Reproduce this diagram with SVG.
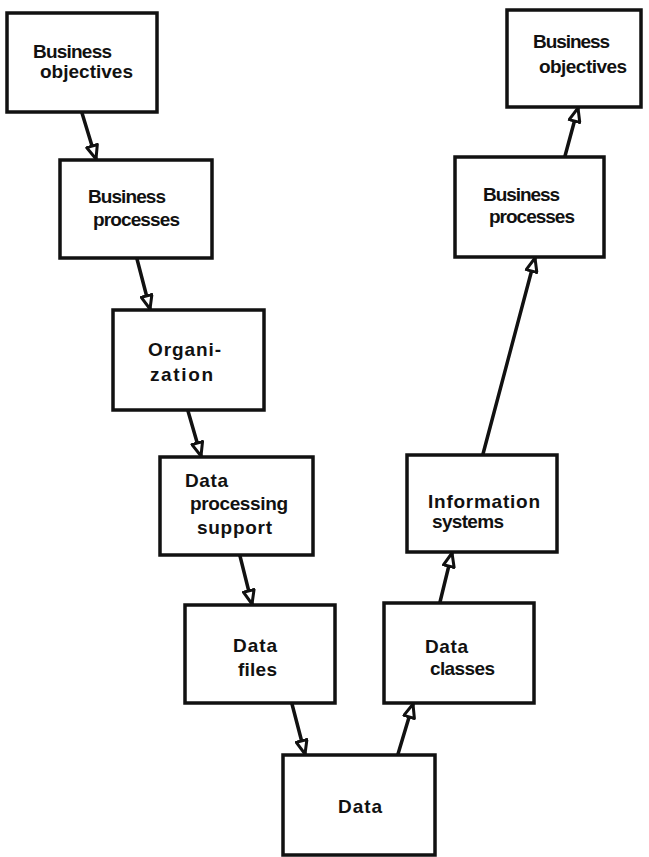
<svg xmlns="http://www.w3.org/2000/svg" width="649" height="857" viewBox="0 0 649 857">
  <style>
    .box { fill: #ffffff; stroke: #111111; stroke-width: 3.5; }
    .lbl { font-family: "Liberation Sans", Arial, sans-serif; font-weight: bold; font-size: 19px; fill: #111111; }
    .edge { fill: none; stroke: #111111; stroke-width: 3.5; stroke-linecap: round; marker-end: url(#head); }
  </style>
  <defs>
    <!-- hollow triangular arrowhead, tip on the line end -->
    <marker id="head" markerUnits="userSpaceOnUse" viewBox="0 0 16 14" refX="15" refY="7" markerWidth="16" markerHeight="14" orient="auto">
      <path d="M1.5,1.5 L15,7 L1.5,12.5 Z" fill="#ffffff" stroke="#111111" stroke-width="3" stroke-linejoin="round"/>
    </marker>
  </defs>
  <rect width="649" height="857" fill="#ffffff"/>

  <!-- connectors -->
  <g id="connectors">
    <path class="edge" d="M82,113 L96,159"/>
    <path class="edge" d="M137,259 L150,309"/>
    <path class="edge" d="M188,411 L201,456"/>
    <path class="edge" d="M240,556 L252,604"/>
    <path class="edge" d="M292,704 L305,754"/>
    <path class="edge" d="M398,754 L413,704"/>
    <path class="edge" d="M440,602 L452,553"/>
    <path class="edge" d="M483,454 L535,258"/>
    <path class="edge" d="M565,156 L578,108"/>
  </g>

  <!-- left column: top-down -->
  <g id="business-objectives-left">
    <rect class="box" x="7" y="13" width="150" height="99"/>
    <text class="lbl" x="33" y="58" textLength="79" lengthAdjust="spacing">Business</text>
    <text class="lbl" x="40" y="78" textLength="93" lengthAdjust="spacing">objectives</text>
  </g>
  <g id="business-processes-left">
    <rect class="box" x="60" y="160" width="152" height="98"/>
    <text class="lbl" x="88" y="203" textLength="78" lengthAdjust="spacing">Business</text>
    <text class="lbl" x="93" y="226" textLength="87" lengthAdjust="spacing">processes</text>
  </g>
  <g id="organization">
    <rect class="box" x="113" y="310" width="151" height="100"/>
    <text class="lbl" x="148" y="356" textLength="73" lengthAdjust="spacing">Organi-</text>
    <text class="lbl" x="150" y="381" textLength="63" lengthAdjust="spacing">zation</text>
  </g>
  <g id="data-processing-support">
    <rect class="box" x="160" y="457" width="153" height="98"/>
    <text class="lbl" x="185" y="487" textLength="43" lengthAdjust="spacing">Data</text>
    <text class="lbl" x="190" y="510" textLength="98" lengthAdjust="spacing">processing</text>
    <text class="lbl" x="197" y="534" textLength="75" lengthAdjust="spacing">support</text>
  </g>
  <g id="data-files">
    <rect class="box" x="185" y="605" width="150" height="98"/>
    <text class="lbl" x="233" y="652" textLength="44" lengthAdjust="spacing">Data</text>
    <text class="lbl" x="238" y="676" textLength="39" lengthAdjust="spacing">files</text>
  </g>

  <!-- bottom -->
  <g id="data">
    <rect class="box" x="283" y="755" width="152" height="100"/>
    <text class="lbl" x="338" y="813" textLength="44" lengthAdjust="spacing">Data</text>
  </g>

  <!-- right column: bottom-up -->
  <g id="data-classes">
    <rect class="box" x="384" y="603" width="150" height="100"/>
    <text class="lbl" x="425" y="653" textLength="43" lengthAdjust="spacing">Data</text>
    <text class="lbl" x="430" y="675" textLength="65" lengthAdjust="spacing">classes</text>
  </g>
  <g id="information-systems">
    <rect class="box" x="407" y="455" width="150" height="97"/>
    <text class="lbl" x="428" y="508" textLength="112" lengthAdjust="spacing">Information</text>
    <text class="lbl" x="432" y="528" textLength="72" lengthAdjust="spacing">systems</text>
  </g>
  <g id="business-processes-right">
    <rect class="box" x="455" y="157" width="149" height="100"/>
    <text class="lbl" x="483" y="201" textLength="77" lengthAdjust="spacing">Business</text>
    <text class="lbl" x="489" y="223" textLength="86" lengthAdjust="spacing">processes</text>
  </g>
  <g id="business-objectives-right">
    <rect class="box" x="507" y="10" width="134" height="97"/>
    <text class="lbl" x="533" y="48" textLength="77" lengthAdjust="spacing">Business</text>
    <text class="lbl" x="539" y="73" textLength="88" lengthAdjust="spacing">objectives</text>
  </g>
</svg>
